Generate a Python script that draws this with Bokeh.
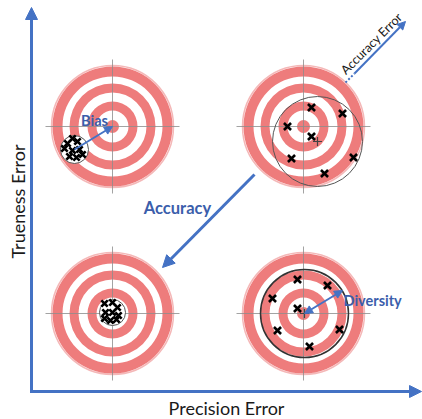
from math import pi
from bokeh.plotting import figure
from bokeh.models import Range1d, Arrow, NormalHead
from bokeh.core.properties import value
from bokeh.embed import file_html
from bokeh.resources import INLINE

# ---- data (diagram coordinates) ----
target_x = [112, 303, 112, 303]
target_y = [126, 126, 313, 313]

# top-left target: biased, precise cluster
bias_x = [72, 67, 77, 64, 72, 79, 69, 76, 82]
bias_y = [138, 143, 141, 148, 150, 149, 156, 157, 154]
bias_center = (74, 149)

# top-right target: imprecise, biased
tr_x = [311, 342, 287, 311, 291, 353, 324]
tr_y = [107, 113, 126, 136, 158, 157, 173]
tr_mean = (317, 141)

# bottom-left target: accurate & precise
bl_x = [104, 112, 117, 105, 112, 118, 104, 110, 116]
bl_y = [303, 302, 307, 312, 312, 315, 318, 320, 319]
bl_center = (112, 312)

# bottom-right target: unbiased, diverse
br_x = [297, 327, 272, 297, 277, 339, 309]
br_y = [279, 285, 298, 308, 330, 329, 346]
br_mean = (304, 313)

labels = ["Trueness Error", "Precision Error", "Accuracy", "Bias", "Diversity", "Accuracy Error"]

BLUE = "#4472C4"
TXT_BLUE = "#3B5EAB"
RED = "#EA5F5F"
FONT = value("Lato")

p = figure(width=422, height=419, x_range=Range1d(0, 422), y_range=Range1d(419, 0),
           output_backend="svg", toolbar_location=None, min_border=0,
           background_fill_color="white", border_fill_color="white")
p.axis.visible = False
p.grid.visible = False
p.outline_line_color = None

# ---- targets ----
p.circle(x=target_x, y=target_y, radius=61, fill_color=None, line_color="#F4B8B8", line_width=1.5)
for r_in, r_out in [(50, 60), (34, 43), (16, 25)]:
    p.annulus(x=target_x, y=target_y, inner_radius=r_in, outer_radius=r_out,
              fill_color=RED, fill_alpha=0.82, line_color=None)
p.circle(x=target_x, y=target_y, radius=6.5, fill_color=RED, fill_alpha=0.82, line_color=None)

# crosshairs
L = 67
p.segment(x0=[x - L for x in target_x], y0=target_y, x1=[x + L for x in target_x], y1=target_y,
          line_color="#8c8c8c", line_width=1, line_alpha=0.8)
p.segment(x0=target_x, y0=[y - L for y in target_y], x1=target_x, y1=[y + L for y in target_y],
          line_color="#8c8c8c", line_width=1, line_alpha=0.8)

# cluster circles
p.circle(x=[bias_center[0]], y=[bias_center[1]], radius=14, fill_color="white",
         line_color="#555555", line_width=1)
p.circle(x=[bl_center[0]], y=[bl_center[1]], radius=13, fill_color="white",
         line_color="#555555", line_width=1)
p.circle(x=[tr_mean[0]], y=[tr_mean[1]], radius=45, fill_color=None,
         line_color="#555555", line_width=1)
p.circle(x=[br_mean[0]], y=[br_mean[1]], radius=44, fill_color=None,
         line_color="#333333", line_width=1.5)

# crosses
for xs, ys, sz in [(bias_x, bias_y, 9), (bl_x, bl_y, 9), (tr_x, tr_y, 10), (br_x, br_y, 10)]:
    p.scatter(x=xs, y=ys, marker="x", size=sz, line_color="black", line_width=2.6)
p.scatter(x=[tr_mean[0], br_mean[0]], y=[tr_mean[1], br_mean[1]], marker="cross",
          size=9, line_color="#444444", line_width=1.2)

# ---- arrows ----
def head(sz):
    return NormalHead(size=sz, fill_color=BLUE, line_color=BLUE)

# axes
p.add_layout(Arrow(end=head(12), x_start=31, y_start=392, x_end=31, y_end=7,
                   line_color=BLUE, line_width=3))
p.add_layout(Arrow(end=head(12), x_start=29.5, y_start=391, x_end=421, y_end=391,
                   line_color=BLUE, line_width=3))
# accuracy
p.add_layout(Arrow(end=head(12), x_start=254, y_start=174, x_end=162, y_end=267,
                   line_color=BLUE, line_width=3))
# accuracy error
p.segment(x0=[345], y0=[82], x1=[354], y1=[73], line_color=BLUE, line_width=2, line_dash="2 2")
p.add_layout(Arrow(end=head(8), x_start=354, y_start=73, x_end=405, y_end=21,
                   line_color=BLUE, line_width=2))
# bias
p.add_layout(Arrow(end=head(8), x_start=bias_center[0], y_start=bias_center[1],
                   x_end=target_x[0], y_end=target_y[0], line_color=BLUE, line_width=2))
# diversity
p.add_layout(Arrow(start=head(8), end=head(8), x_start=br_mean[0], y_start=br_mean[1],
                   x_end=342, y_end=290, line_color=BLUE, line_width=2))

# ---- texts ----
p.text(x=[17], y=[201], text=[labels[0]], angle=pi / 2, text_font=FONT, text_font_size="18px",
       text_color="#1a1a1a", text_align="center", text_baseline="middle")
p.text(x=[226], y=[407], text=[labels[1]], text_font=FONT, text_font_size="18px",
       text_color="#1a1a1a", text_align="center", text_baseline="middle")
p.text(x=[177], y=[207], text=[labels[2]], text_font=FONT, text_font_size="16.5px",
       text_font_style="bold", text_color=TXT_BLUE, text_align="center", text_baseline="middle")
p.text(x=[94], y=[120], text=[labels[3]], text_font=FONT, text_font_size="14.5px",
       text_font_style="bold", text_color=TXT_BLUE, text_align="center", text_baseline="middle")
p.text(x=[343], y=[300], text=[labels[4]], text_font=FONT, text_font_size="14.5px",
       text_font_style="bold", text_color=TXT_BLUE, text_align="left", text_baseline="middle")
p.text(x=[371], y=[43], text=[labels[5]], angle=pi / 4, text_font=FONT, text_font_size="12.5px",
       text_color="#1a1a1a", text_align="center", text_baseline="middle")

open("out.html", "w").write(file_html(p, INLINE))
